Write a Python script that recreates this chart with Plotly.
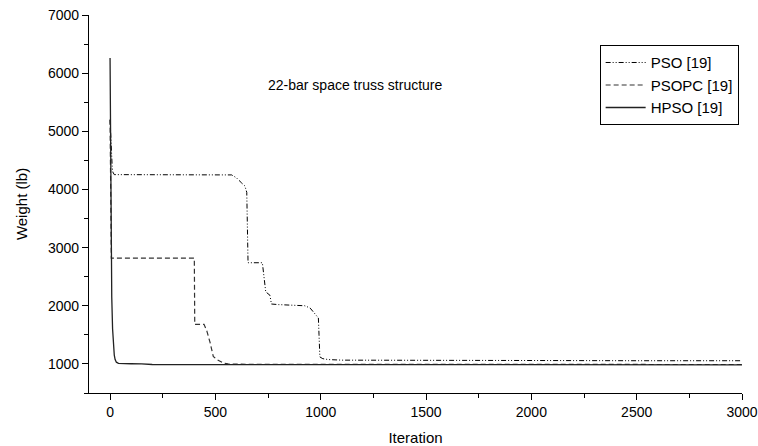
import plotly.graph_objects as go

# PSO [19]
pso_iter = [0, 5, 10, 13, 20, 577, 600, 625, 640, 649, 652, 655, 723, 728, 739, 759, 762, 766,
            800, 900, 925, 950, 973, 989, 992, 996, 1010, 1036, 1100, 1500, 2000, 2500, 3000]
pso_weight = [5200, 4700, 4400, 4300, 4255, 4250, 4200, 4110, 4060, 3950, 3500, 2740, 2740, 2600,
              2240, 2180, 2100, 2030, 2020, 2010, 2000, 1960, 1870, 1790, 1500, 1120, 1090, 1075,
              1065, 1060, 1058, 1055, 1055]

# PSOPC [19]
psopc_iter = [0, 3, 6, 400, 402, 446, 460, 475, 490, 505, 522, 540, 560, 600, 1000, 2000, 3000]
psopc_weight = [5200, 3500, 2820, 2820, 1680, 1680, 1560, 1365, 1130, 1080, 1040, 1010, 1000,
                995, 992, 990, 990]

# HPSO [19]
hpso_iter = [0, 3, 6, 8, 12, 16, 20, 24, 30, 40, 60, 100, 150, 200, 500, 1000, 3000]
hpso_weight = [6260, 4500, 2600, 2150, 1600, 1280, 1150, 1075, 1030, 1010, 1005, 1003, 1000,
               990, 988, 985, 985]

x_ticks = [0, 500, 1000, 1500, 2000, 2500, 3000]
y_ticks = [1000, 2000, 3000, 4000, 5000, 6000, 7000]

FONT = "Liberation Sans, Arial, sans-serif"

fig = go.Figure()
fig.add_trace(go.Scatter(x=pso_iter, y=pso_weight, mode="lines", name="PSO [19]",
                         line=dict(color="black", width=1, dash="5px,2px,1px,2px,1px,2px")))
fig.add_trace(go.Scatter(x=psopc_iter, y=psopc_weight, mode="lines", name="PSOPC [19]",
                         line=dict(color="#333333", width=1.2, dash="5px,3px")))
fig.add_trace(go.Scatter(x=hpso_iter, y=hpso_weight, mode="lines", name="HPSO [19]",
                         line=dict(color="#222222", width=1.3)))

fig.update_layout(
    width=758, height=446,
    margin=dict(l=89, r=16, t=15, b=53),
    plot_bgcolor="white", paper_bgcolor="white",
    font=dict(family=FONT, size=14, color="black"),
    showlegend=True,
    legend=dict(x=0.782, y=0.92, xanchor="left", yanchor="top",
                bordercolor="black", borderwidth=1, bgcolor="white",
                font=dict(size=15), tracegroupgap=0, itemwidth=40,
                entrywidth=118, entrywidthmode="pixels"),
    annotations=[dict(text="22-bar space truss structure", x=1163, y=5800,
                      xref="x", yref="y", showarrow=False, font=dict(size=14))],
)
fig.update_xaxes(range=[-100, 3000], tickvals=x_ticks, showgrid=False, zeroline=False,
                 showline=True, linecolor="black", linewidth=1.3, ticks="outside",
                 ticklen=6, tickwidth=1.3, tickcolor="black", automargin=False,
                 minor=dict(ticks="outside", ticklen=4, tickwidth=1, tickcolor="black", dtick=250, tick0=0),
                 title=dict(text="Iteration", font=dict(size=15), standoff=14))
fig.update_yaxes(range=[500, 7000], tickvals=y_ticks, showgrid=False, zeroline=False,
                 showline=True, linecolor="black", linewidth=1.3, ticks="outside",
                 ticklen=6, tickwidth=1.3, tickcolor="black", automargin=False,
                 minor=dict(ticks="outside", ticklen=4, tickwidth=1, tickcolor="black", dtick=500, tick0=0),
                 title=dict(text="Weight (lb)", font=dict(size=15), standoff=16))

fig.write_html("out.html")
